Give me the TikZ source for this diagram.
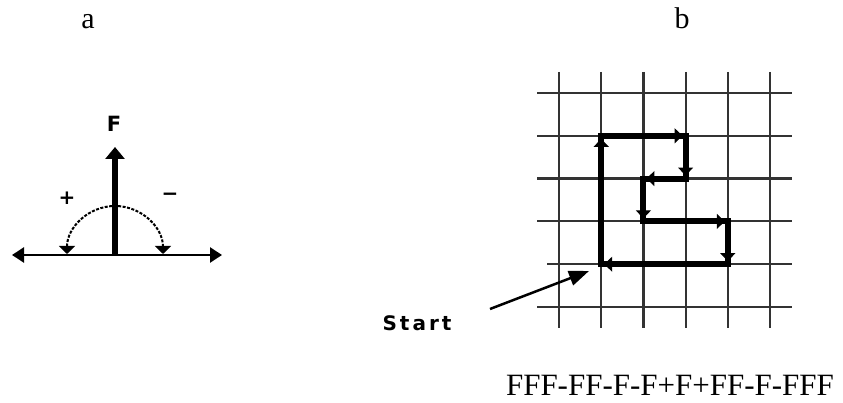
\documentclass[tikz,border=0pt]{standalone}
\usepackage{fontspec}
\setmainfont{Liberation Serif}
\newfontfamily\labsans{DejaVu Sans}
\newfontfamily\startsans[LetterSpace=15]{DejaVu Sans}
\usetikzlibrary{arrows.meta,calc}
\begin{document}
\begin{tikzpicture}[x=1pt,y=-1pt,
  gridline/.style={line width=2.2pt,black!80},
  pathline/.style={line width=6pt,line join=miter},
  segtip/.style={line width=1pt,-{Triangle[length=8pt,width=15pt]}},
  axis/.style={line width=2.7pt,{Triangle[length=12pt,width=15pt]}-{Triangle[length=12pt,width=15pt]}},
  fline/.style={line width=6.5pt,-{Triangle[length=12pt,width=19pt]}},
  turnarc/.style={line width=2pt,dash pattern=on 3pt off 1.5pt,{Triangle[length=8pt,width=16pt]}-{Triangle[length=8pt,width=16pt]}},
  startarrow/.style={line width=2.5pt,-{Triangle[length=20pt,width=15pt]}},
  serlabel/.style={font=\fontsize{30}{30}\selectfont,inner sep=0pt,anchor=base},
  sanslabel/.style={font=\labsans\bfseries\fontsize{21}{21}\selectfont,inner sep=0pt},
  pmlabel/.style={font=\labsans\bfseries\fontsize{20}{20}\selectfont,inner sep=0pt}
]
\useasboundingbox (0,0) rectangle (843,403);

% ---------- panel labels
\node[serlabel] (la) at (88,29) {a};
\node[serlabel] (lb) at (682,29) {b};

% ---------- panel a
\coordinate (axL) at (12,255);
\coordinate (axR) at (222,255);
\coordinate (o) at (115,255);
\coordinate (ftip) at (115,147);
\draw[axis] (axL) -- (axR);
\draw[fline] (o) -- (ftip);
\node[sanslabel] (F) at (114,124) {F};
\draw[turnarc] (67,254) arc[start angle=180,end angle=360,radius=48];
\node[pmlabel] (plus) at (67,198) {+};
\node[pmlabel] (minus) at (170,197) {−};

% ---------- panel b : grid
\foreach \i in {0,...,5} {
  \draw[gridline] (559+42.2*\i,72) -- (559+42.2*\i,328);
}
\foreach \j in {0,1,2,3,5} {
  \draw[gridline] (537,93+42.8*\j) -- (792,93+42.8*\j);
}
\draw[gridline] (547,264.2) -- (792,264.2);

% turtle path points
\coordinate (A) at (601.2,264.2);
\coordinate (B) at (601.2,135.8);
\coordinate (C) at (685.6,135.8);
\coordinate (D) at (685.6,178.6);
\coordinate (E) at (643.4,178.6);
\coordinate (G) at (643.4,221.4);
\coordinate (H) at (727.8,221.4);
\coordinate (I) at (727.8,264.2);

\draw[pathline] (A) -- (B) -- (C) -- (D) -- (E) -- (G) -- (H) -- (I) -- cycle;

\draw[segtip] ($(B)!14pt!(A)$) -- ($(B)!3pt!(A)$);
\draw[segtip] ($(C)!14pt!(B)$) -- ($(C)!3pt!(B)$);
\draw[segtip] ($(D)!14pt!(C)$) -- ($(D)!3pt!(C)$);
\draw[segtip] ($(E)!14pt!(D)$) -- ($(E)!3pt!(D)$);
\draw[segtip] ($(G)!14pt!(E)$) -- ($(G)!3pt!(E)$);
\draw[segtip] ($(H)!14pt!(G)$) -- ($(H)!3pt!(G)$);
\draw[segtip] ($(I)!14pt!(H)$) -- ($(I)!3pt!(H)$);
\draw[segtip] ($(A)!14pt!(I)$) -- ($(A)!3pt!(I)$);

% start label and arrow
\node[font=\startsans\bfseries\fontsize{20}{20}\selectfont,inner sep=1pt] (start) at (417,323) {Start};
\coordinate (stail) at (490,309);
\coordinate (shead) at (589,271);
\draw[startarrow] (stail) -- (shead);

% program string
\node[serlabel,font=\fontsize{31}{31}\selectfont] (prog) at (670,395) {FFF-FF-F-F+F+FF-F-FFF};
\end{tikzpicture}
\end{document}
